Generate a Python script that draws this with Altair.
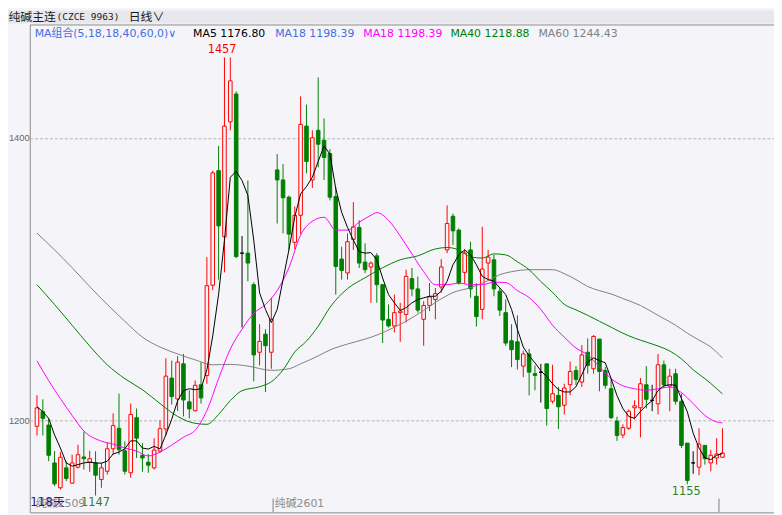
import altair as alt
import pandas as pd

# ---------------- data ----------------
opens = [1196.0, 1206.3, 1196.9, 1170.1, 1152.5, 1166.6, 1155.8, 1167.1, 1174.3, 1170.6,
         1170.1, 1158.4, 1164.2, 1180.1, 1194.6, 1178.7, 1163.1, 1202.1, 1175.5, 1170.6,
         1166.6, 1178.5, 1194.1, 1230.1, 1215.3, 1240.2, 1213.3, 1207.0, 1225.4, 1232.0,
         1295.8, 1376.9, 1330.1, 1411.4, 1431.1, 1318.5, 1318.5, 1296.2, 1248.4, 1261.2,
         1248.4, 1377.4, 1370.3, 1358.1, 1326.2, 1345.3, 1408.4, 1370.3, 1405.4, 1398.4,
         1389.0, 1358.6, 1314.3, 1304.5, 1328.3, 1336.7, 1312.2, 1308.7, 1316.6, 1296.2,
         1271.7, 1267.0, 1276.4, 1275.2, 1300.5, 1293.2, 1271.7, 1281.5, 1285.7, 1294.6,
         1320.8, 1344.6, 1334.8, 1304.9, 1320.8, 1288.0, 1278.7, 1311.5, 1313.8, 1291.6,
         1276.4, 1256.5, 1255.8, 1238.6, 1247.2, 1233.2, 1234.3, 1240.2, 1213.7, 1217.9,
         1210.9, 1225.4, 1235.5, 1227.3, 1248.4, 1236.7, 1257.7, 1235.5, 1222.6, 1199.7,
         1189.9, 1194.6, 1209.1, 1209.1, 1225.4, 1214.4, 1211.9, 1239.5, 1224.5, 1233.2,
         1213.7, 1184.1, 1170.1, 1167.1, 1182.5, 1170.1, 1173.6, 1174.1]
highs = [1218.0, 1215.1, 1201.6, 1178.5, 1177.8, 1171.3, 1175.9, 1182.9, 1192.3, 1178.7,
         1178.3, 1170.1, 1184.8, 1205.1, 1219.1, 1185.3, 1212.1, 1208.6, 1184.1, 1176.4,
         1187.6, 1200.2, 1244.2, 1242.5, 1245.6, 1247.2, 1221.5, 1228.5, 1241.4, 1315.7,
         1376.9, 1394.4, 1457.0, 1457.0, 1433.0, 1330.6, 1369.9, 1297.9, 1268.2, 1264.7,
         1286.9, 1388.6, 1381.6, 1359.3, 1351.6, 1429.4, 1423.6, 1405.4, 1442.8, 1413.8,
         1392.1, 1365.2, 1323.1, 1332.5, 1354.6, 1341.8, 1325.5, 1312.6, 1318.5, 1296.2,
         1282.2, 1289.2, 1283.4, 1306.8, 1308.0, 1301.9, 1284.5, 1297.4, 1293.9, 1314.3,
         1352.3, 1346.5, 1336.0, 1321.3, 1326.6, 1297.4, 1337.1, 1320.8, 1317.3, 1293.9,
         1285.7, 1268.2, 1274.5, 1249.5, 1250.7, 1239.0, 1240.2, 1240.2, 1239.5, 1223.8,
         1226.1, 1241.8, 1238.6, 1253.5, 1258.2, 1260.5, 1257.7, 1237.9, 1229.7, 1202.8,
         1197.4, 1207.9, 1214.4, 1230.1, 1238.6, 1225.4, 1247.2, 1242.5, 1236.7, 1236.7,
         1219.1, 1184.1, 1178.3, 1194.6, 1182.5, 1179.4, 1187.6, 1194.6]
lows = [1189.5, 1189.5, 1171.3, 1153.7, 1151.3, 1157.2, 1155.3, 1166.1, 1165.4, 1163.8,
        1147.0, 1152.5, 1161.9, 1175.9, 1175.9, 1161.9, 1159.6, 1173.6, 1163.8, 1163.1,
        1165.4, 1177.1, 1189.5, 1211.4, 1206.9, 1203.0, 1201.6, 1206.5, 1212.1, 1226.1,
        1292.3, 1299.8, 1304.9, 1405.4, 1315.0, 1265.9, 1298.6, 1227.8, 1239.0, 1220.3,
        1236.7, 1339.5, 1332.5, 1320.8, 1321.3, 1332.0, 1375.0, 1364.7, 1379.2, 1370.3,
        1355.8, 1289.2, 1299.8, 1299.8, 1320.8, 1308.0, 1304.5, 1283.4, 1283.4, 1254.9,
        1265.9, 1262.4, 1255.8, 1269.4, 1288.0, 1276.4, 1253.0, 1277.5, 1271.7, 1290.4,
        1318.5, 1324.3, 1296.2, 1297.0, 1286.9, 1266.6, 1271.7, 1299.8, 1288.0, 1274.0,
        1253.0, 1237.9, 1236.2, 1230.8, 1217.9, 1221.5, 1212.8, 1196.5, 1212.1, 1194.1,
        1204.4, 1217.9, 1225.0, 1223.8, 1233.2, 1233.2, 1220.8, 1222.6, 1201.1, 1185.7,
        1187.6, 1193.4, 1200.9, 1188.1, 1208.6, 1206.7, 1204.4, 1223.1, 1206.7, 1211.4,
        1180.6, 1155.0, 1162.4, 1161.4, 1168.9, 1164.2, 1168.9, 1174.1]
closes = [1209.0, 1201.6, 1175.5, 1155.3, 1174.1, 1159.1, 1170.1, 1175.9, 1173.1, 1173.1,
          1161.4, 1166.6, 1180.1, 1196.5, 1179.4, 1164.2, 1204.4, 1187.6, 1173.6, 1168.5,
          1179.2, 1194.3, 1231.5, 1217.0, 1241.4, 1214.6, 1208.3, 1225.0, 1216.1, 1295.5,
          1375.3, 1337.8, 1408.4, 1440.4, 1316.1, 1318.5, 1311.5, 1246.5, 1256.1, 1253.0,
          1271.7, 1370.3, 1357.7, 1332.0, 1345.3, 1409.6, 1383.4, 1400.2, 1395.6, 1386.2,
          1358.1, 1309.1, 1306.3, 1326.6, 1337.1, 1311.5, 1306.8, 1311.5, 1296.2, 1271.2,
          1267.0, 1276.4, 1277.5, 1302.1, 1293.2, 1278.2, 1281.5, 1287.6, 1289.9, 1308.7,
          1339.5, 1334.3, 1297.4, 1318.5, 1293.2, 1273.6, 1307.3, 1315.7, 1293.2, 1278.2,
          1254.9, 1250.2, 1243.2, 1247.2, 1234.3, 1232.0, 1234.3, 1208.6, 1219.1, 1209.8,
          1223.1, 1234.8, 1229.2, 1246.5, 1239.0, 1259.6, 1234.8, 1225.0, 1202.1, 1189.5,
          1195.1, 1206.7, 1210.5, 1226.1, 1215.1, 1214.4, 1239.5, 1225.4, 1231.5, 1213.7,
          1182.5, 1157.7, 1170.1, 1183.4, 1173.1, 1175.5, 1176.4, 1177.1]

ma5 = [1209.8, 1206.3, 1201.6, 1189.9, 1180.6, 1170.1, 1167.8, 1168.9, 1170.1, 1170.6,
       1170.1, 1169.9, 1171.3, 1176.4, 1177.8, 1180.1, 1185.7, 1185.7, 1180.6, 1179.9,
       1181.8, 1180.0, 1190.0, 1201.0, 1214.0, 1221.2, 1222.6, 1221.9, 1222.6, 1236.0,
       1260.0, 1289.4, 1327.8, 1372.2, 1376.4, 1369.9, 1359.3, 1327.8, 1290.4, 1278.7,
       1269.4, 1278.7, 1299.8, 1320.8, 1344.1, 1360.5, 1365.6, 1372.2, 1383.4, 1394.4,
       1388.6, 1364.2, 1347.4, 1336.7, 1327.8, 1319.6, 1318.5, 1318.9, 1313.8, 1300.9,
       1289.2, 1283.4, 1278.0, 1279.9, 1283.4, 1285.7, 1286.9, 1288.0, 1288.0, 1291.6,
       1298.6, 1310.3, 1317.3, 1320.8, 1317.3, 1310.3, 1302.1, 1299.8, 1298.6, 1293.9,
       1289.2, 1278.7, 1264.7, 1252.1, 1245.8, 1240.9, 1235.3, 1231.1, 1226.1, 1221.9,
       1220.3, 1220.3, 1224.0, 1232.5, 1241.6, 1244.4, 1242.5, 1240.9, 1229.7, 1217.7,
       1208.6, 1203.0, 1201.6, 1206.5, 1210.7, 1214.2, 1221.2, 1224.7, 1225.4, 1225.1,
       1215.6, 1206.3, 1191.1, 1180.6, 1173.6, 1172.4, 1175.5, 1176.8]

ma18_idx = [0, 2, 4, 6, 8, 11, 13, 15, 17, 19, 21, 23, 25, 27, 29, 31, 33, 35, 37, 39,
            41, 43, 45, 47, 49, 51, 53, 55, 57, 58, 60, 62, 64, 66, 68, 70, 72, 74, 76, 78,
            80, 82, 84, 86, 88, 90, 92, 94, 96, 98, 100, 102, 104, 106, 108, 110, 112, 114,
            116, 117]
ma18_val = [1242.3, 1228.3, 1215.6, 1203.7, 1192.7, 1185.5, 1183.4, 1180.6, 1178.5, 1175.0,
            1177.8, 1182.7, 1188.3, 1193.2, 1207.2, 1229.7, 1250.7, 1264.7, 1275.9, 1282.2,
            1292.0, 1308.2, 1331.3, 1341.1, 1343.9, 1334.8, 1334.8, 1340.4, 1345.3, 1347.2,
            1341.8, 1330.6, 1318.0, 1305.4, 1296.2, 1296.2, 1297.3, 1296.2, 1296.2, 1298.0,
            1297.7, 1292.0, 1287.1, 1278.7, 1267.5, 1259.1, 1251.4, 1246.5, 1238.1, 1229.7,
            1224.7, 1222.6, 1221.5, 1222.6, 1223.8, 1219.8, 1212.1, 1203.7, 1199.1, 1198.4]

ma40_idx = [0, 3, 6, 9, 12, 15, 18, 21, 24, 27, 29, 31, 33, 35, 38, 40, 42, 44, 46, 48,
            50, 53, 56, 59, 62, 65, 68, 70, 72, 74, 76, 78, 80, 82, 84, 86, 88, 90, 92, 94,
            96, 98, 100, 102, 104, 106, 108, 110, 112, 114, 116, 117]
ma40_val = [1296.2, 1282.2, 1267.5, 1252.8, 1239.5, 1229.7, 1221.9, 1212.1, 1203.0, 1198.1,
            1197.4, 1204.4, 1214.2, 1221.2, 1224.0, 1227.5, 1235.9, 1248.6, 1256.3, 1266.8,
            1280.1, 1293.4, 1301.1, 1308.2, 1313.8, 1316.6, 1321.5, 1322.5, 1320.8, 1315.9,
            1315.0, 1318.0, 1317.3, 1312.4, 1306.8, 1298.4, 1290.8, 1282.3, 1278.4, 1274.5,
            1270.3, 1266.1, 1261.9, 1258.4, 1255.6, 1252.8, 1249.3, 1243.7, 1236.0, 1229.7,
            1222.7, 1218.9]

ma60_idx = [0, 3, 6, 9, 12, 15, 18, 21, 24, 27, 30, 33, 36, 40, 43, 45, 48, 50, 53, 56,
            58, 61, 63, 66, 68, 71, 74, 77, 79, 81, 84, 88, 90, 92, 94, 96, 98, 100, 103, 106,
            109, 111, 113, 115, 117]
ma60_val = [1332.7, 1320.8, 1308.2, 1294.9, 1282.2, 1270.3, 1259.1, 1252.1, 1247.2, 1243.0,
            1239.5, 1239.8, 1238.6, 1235.6, 1236.7, 1240.2, 1245.8, 1250.0, 1254.2, 1257.7,
            1260.5, 1266.1, 1270.3, 1278.0, 1283.6, 1290.6, 1294.1, 1299.1, 1303.3, 1305.4,
            1306.8, 1306.8, 1304.0, 1299.8, 1294.9, 1292.0, 1289.6, 1286.4, 1281.5, 1274.5,
            1267.5, 1261.9, 1257.0, 1252.1, 1244.4]

legend_text = ["MA组合(5,18,18,40,60,0)∨", "MA5 1176.80", "MA18 1198.39",
               "MA18 1198.39", "MA40 1218.88", "MA60 1244.43"]
legend_color = ["#3f6fe0", "#000000", "#3f6fe0", "#ff00ff", "#008000", "#808080"]
legend_px = [5, 165, 248, 337, 425, 514]

y_ticks = [1200, 1400]
peak_text, peak_i, peak_v = ["1457"], [31.6], [1457]
trough_text, trough_i, trough_v = ["1147", "1155"], [10, 110.8], [1147, 1155]
contract_text, contract_i = ["纯碱2509", "纯碱2601"], [-0.2, 40.6]
marker_i = [40.3, 116.4]

# ---------------- chart ----------------
BG = "#f5f5f9"
W, H = 752, 493
xs = alt.Scale(domain=[-0.383, 124.95], nice=False, zero=False)
ys = alt.Scale(domain=[1135.1, 1480.3], nice=False, zero=False)
yax = alt.Axis(values=y_ticks, format="d", grid=True, gridDash=[3, 2], gridColor="#b4b4b4",
               ticks=False, domain=False, labelFont="Liberation Sans", labelFontSize=9.5,
               labelColor="#666666", labelPadding=0.5, title=None)
X = alt.X("i:Q", scale=xs, axis=None)

df = pd.DataFrame({"i": list(range(len(opens))), "open": opens, "high": highs,
                   "low": lows, "close": closes})
df["kind"] = ["up" if c > o else ("down" if c < o else "flat") for o, c in zip(opens, closes)]
kinds = ["up", "down", "flat"]
stroke_scale = alt.Scale(domain=kinds, range=["#ff0000", "#008000", "#000000"])
fill_scale = alt.Scale(domain=kinds, range=[BG, "#008000", "#000000"])

dummy = pd.DataFrame({"a": [0]})

header = alt.Chart(dummy).mark_rect(color="#e8e8ec").encode(
    x=alt.value(-22), x2=alt.value(W), y=alt.value(-14), y2=alt.value(-1))

wick = alt.Chart(df).mark_rule(strokeWidth=1).encode(
    x=X, y=alt.Y("low:Q", scale=ys, axis=yax), y2="high:Q",
    color=alt.Color("kind:N", scale=stroke_scale, legend=None))

body = alt.Chart(df).mark_bar(size=3.6, strokeWidth=1).encode(
    x=X, y=alt.Y("open:Q", scale=ys, axis=yax), y2="close:Q",
    fill=alt.Fill("kind:N", scale=fill_scale, legend=None),
    stroke=alt.Stroke("kind:N", scale=stroke_scale, legend=None))


def ma_layer(ix, vals, color, interp):
    d = pd.DataFrame({"i": ix, "v": vals})
    return alt.Chart(d).mark_line(color=color, strokeWidth=1, interpolate=interp).encode(
        x=X, y=alt.Y("v:Q", scale=ys, axis=yax))


l60 = ma_layer(ma60_idx, ma60_val, "#808080", "monotone")
l40 = ma_layer(ma40_idx, ma40_val, "#008000", "monotone")
l18 = ma_layer(ma18_idx, ma18_val, "#ff00ff", "monotone")
l5 = ma_layer(list(range(len(ma5))), ma5, "#000000", "linear")

peak = alt.Chart(pd.DataFrame({"i": peak_i, "v": peak_v, "t": peak_text})).mark_text(
    baseline="bottom", dy=-2, color="#ff0000", font="DejaVu Sans", fontSize=11.5).encode(
    x=X, y=alt.Y("v:Q", scale=ys, axis=yax), text="t:N")

trough = alt.Chart(pd.DataFrame({"i": trough_i, "v": trough_v, "t": trough_text})).mark_text(
    baseline="top", dy=2, color="#2f7f2f", font="DejaVu Sans", fontSize=11.5).encode(
    x=X, y=alt.Y("v:Q", scale=ys, axis=yax), text="t:N")

legend = alt.Chart(pd.DataFrame({"t": legend_text, "px": legend_px, "c": legend_color})).mark_text(
    align="left", baseline="middle", font="DejaVu Sans, Noto Sans CJK SC", fontSize=11).encode(
    x=alt.X("px:Q", scale=None), y=alt.value(9.5), text="t:N",
    color=alt.Color("c:N", scale=None))

title1 = alt.Chart(dummy).mark_text(
    align="left", baseline="middle", font="Noto Sans CJK SC", fontSize=12,
    color="#1a1a1a", text="纯碱主连").encode(x=alt.value(-21.5), y=alt.value(-7.5))
title2 = alt.Chart(dummy).mark_text(
    align="left", baseline="middle", font="DejaVu Sans Mono", fontSize=9.6,
    color="#1a1a1a", text="(CZCE 9963)").encode(x=alt.value(27), y=alt.value(-7.5))
title3 = alt.Chart(dummy).mark_text(
    align="left", baseline="middle", font="Noto Sans CJK SC", fontSize=12,
    color="#1a1a1a", text="日线∨").encode(x=alt.value(100), y=alt.value(-7.5))

markers = alt.Chart(pd.DataFrame({"i": marker_i})).mark_rule(color="#808080", strokeWidth=1).encode(
    x=X, y=alt.value(479), y2=alt.value(H))

contracts = alt.Chart(pd.DataFrame({"i": contract_i, "t": contract_text})).mark_text(
    align="left", baseline="middle", font="DejaVu Sans, Noto Sans CJK SC", fontSize=11,
    color="#8c8c8c").encode(x=X, y=alt.value(484.5), text="t:N")

days = alt.Chart(dummy).mark_text(
    align="left", baseline="middle", font="DejaVu Sans, Noto Sans CJK SC", fontSize=12,
    color="#1c1c8c", text="118天").encode(x=alt.value(0.5), y=alt.value(482.5))

chart = alt.layer(
    header, wick, body, l60, l40, l18, l5, peak, trough, legend,
    title1, title2, title3, markers, contracts, days
).properties(
    width=W, height=H,
    autosize=alt.AutoSizeParams(type="none"),
    padding={"left": 22, "top": 14, "right": 0, "bottom": 0},
    background=BG,
).configure_view(stroke="#8c8c8c", strokeWidth=1, fill=BG)

chart.save("out.html", embed_options={"renderer": "svg", "actions": False})
